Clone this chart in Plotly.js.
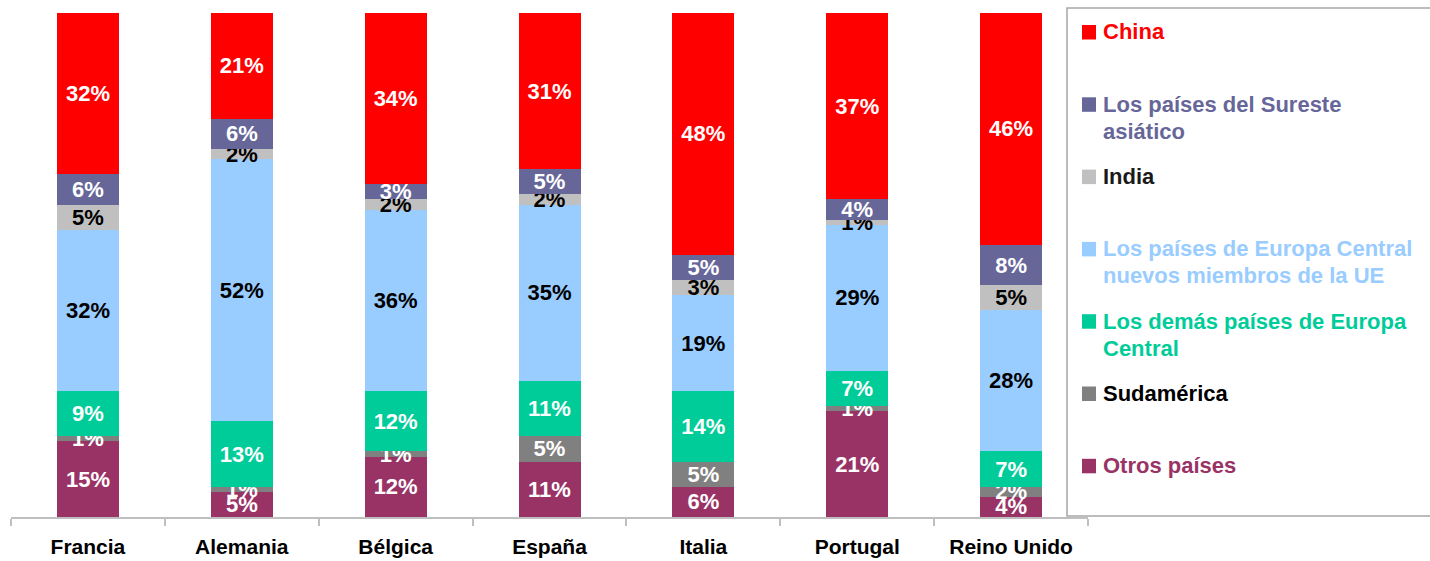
<!DOCTYPE html>
<html>
<head>
<meta charset="utf-8">
<script src="https://cdn.plot.ly/plotly-3.0.1.min.js"></script>
<style>html,body{margin:0;padding:0;background:#fff;}#chart{width:1430px;height:561px;}</style>
</head>
<body>
<div id="chart"></div>
<script>
const categories = ["Francia", "Alemania", "Bélgica", "España", "Italia", "Portugal", "Reino Unido"];

// Series, from bottom of the stack to top
const otrosPaises        = [15, 5, 12, 11, 6, 21, 4];
const sudamerica         = [1, 1, 1, 5, 5, 1, 2];
const demasEuropaCentral = [9, 13, 12, 11, 14, 7, 7];
const europaCentralUE    = [32, 52, 36, 35, 19, 29, 28];
const india              = [5, 2, 2, 2, 3, 1, 5];
const suresteAsiatico    = [6, 6, 3, 5, 5, 4, 8];
const china              = [32, 21, 34, 31, 48, 37, 46];

const seriesNames = [
  "Otros países",
  "Sudamérica",
  "Los demás países de Europa\nCentral",
  "Los países de Europa Central\nnuevos miembros de la UE",
  "India",
  "Los países del Sureste\nasiático",
  "China"
];
const seriesValues = [otrosPaises, sudamerica, demasEuropaCentral, europaCentralUE, india, suresteAsiatico, china];
const seriesColors = ["#993366", "#808080", "#00CC99", "#99CCFF", "#C0C0C0", "#666699", "#FF0000"];
const labelColors  = ["#FFFFFF", "#FFFFFF", "#FFFFFF", "#000000", "#000000", "#FFFFFF", "#FFFFFF"];
const legendTextColors = ["#993366", "#000000", "#00CC99", "#99CCFF", "#1a1a1a", "#666699", "#FF0000"];

const FONT = "Liberation Sans, Arial, sans-serif";

const traces = seriesValues.map((vals, i) => ({
  type: "bar",
  x: categories,
  y: vals,
  name: seriesNames[i],
  marker: { color: seriesColors[i], line: { width: 0 } },
  text: vals.map(v => v + "%"),
  textposition: "inside",
  insidetextanchor: "middle",
  constraintext: "none",
  textangle: 0,
  insidetextfont: { family: FONT, size: 22, color: labelColors[i], weight: "bold" },
  hoverinfo: "skip",
  showlegend: false
}));

// plot area in pixels
const W = 1430, H = 561;
const mL = 11, mR = 342, mT = 13, mB = 44;
const pw = W - mL - mR, ph = H - mT - mB;
const px = x => (x - mL) / pw;
const py = y => (H - mB - y) / ph;

const shapes = [];
const annotations = [];

// legend box
shapes.push({
  type: "rect", xref: "paper", yref: "paper",
  x0: px(1067), x1: px(1445), y0: py(516), y1: py(8),
  line: { color: "#A6A6A6", width: 1.5 }, fillcolor: "rgba(0,0,0,0)", layer: "above"
});

// legend entries, top (China) to bottom (Otros países)
for (let k = 0; k < seriesNames.length; k++) {
  const i = seriesNames.length - 1 - k;
  const yc = 32 + k * 72.3;
  shapes.push({
    type: "rect", xref: "paper", yref: "paper",
    x0: px(1082), x1: px(1096), y0: py(yc + 7.5), y1: py(yc - 7),
    line: { width: 0 }, fillcolor: seriesColors[i], layer: "above"
  });
  const lines = seriesNames[i].split("\n");
  lines.forEach((ln, j) => {
    annotations.push({
      xref: "paper", yref: "paper",
      x: px(1101), y: py(yc + j * 27),
      xanchor: "left", yanchor: "middle",
      text: ln, showarrow: false,
      font: { family: FONT, size: 22, color: legendTextColors[i], weight: "bold" }
    });
  });
}

const layout = {
  width: W, height: H,
  margin: { l: mL, r: mR, t: mT, b: mB, pad: 0 },
  barmode: "stack",
  bargap: 0.597,
  paper_bgcolor: "#FFFFFF",
  plot_bgcolor: "#FFFFFF",
  showlegend: false,
  xaxis: {
    type: "category",
    range: [-0.5, 6.5],
    showline: true, linecolor: "#BFBFBF", linewidth: 2,
    ticks: "outside", tickson: "boundaries", ticklen: 7, tickwidth: 2, tickcolor: "#BFBFBF",
    tickfont: { family: FONT, size: 21, color: "#000000", weight: "bold" },
    ticklabelstandoff: 10,
    showgrid: false, zeroline: false, fixedrange: true
  },
  yaxis: {
    range: [0, 100], visible: false, showgrid: false, zeroline: false, fixedrange: true
  },
  shapes: shapes,
  annotations: annotations
};

Plotly.newPlot("chart", traces, layout, { displayModeBar: false, staticPlot: true });
</script>
</body>
</html>
